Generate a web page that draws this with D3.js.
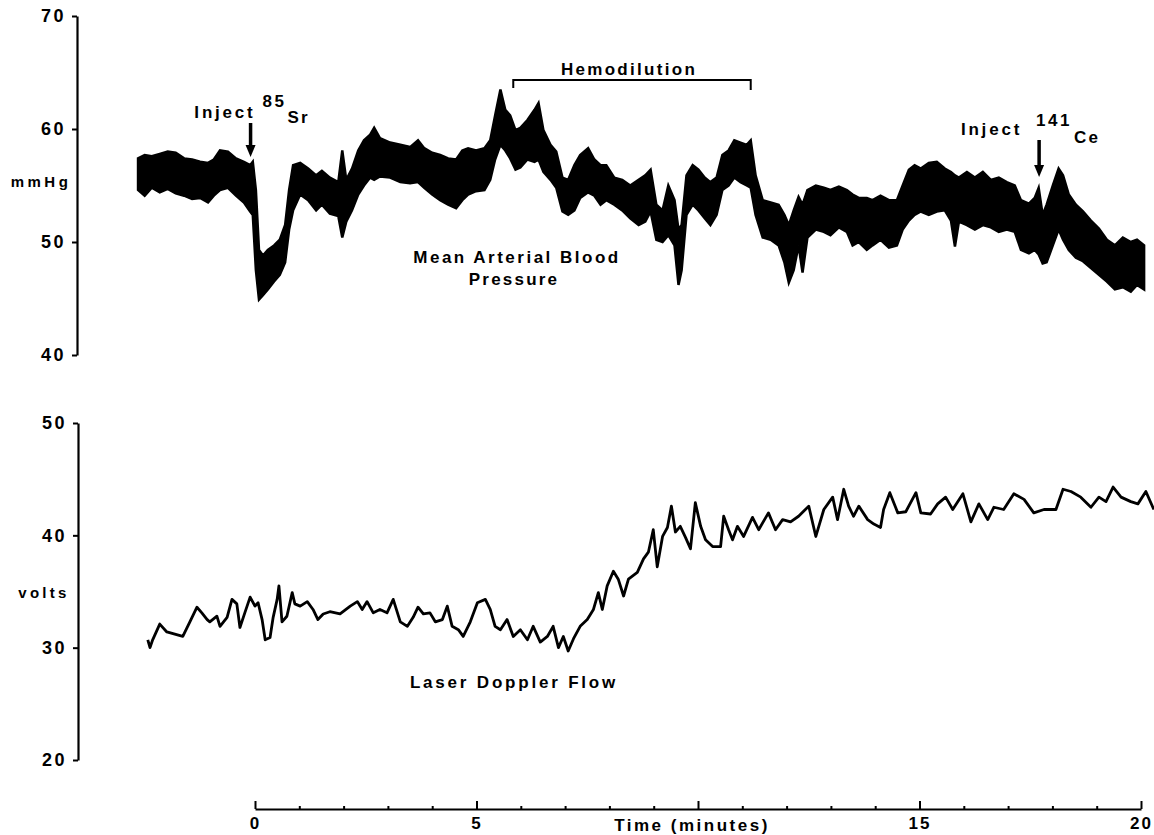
<!DOCTYPE html>
<html>
<head>
<meta charset="utf-8">
<script src="https://cdn.jsdelivr.net/npm/d3@7"></script>
<style>
  body { margin: 0; background: #fff; }
  svg { display: block; }
  text { font-family: "Liberation Sans", Arial, sans-serif; font-weight: bold; fill: #000; }
</style>
</head>
<body>
<svg id="chart" width="1154" height="835"></svg>
<script>
var svg = d3.select("#chart");
var width = +svg.attr("width"),
    height = +svg.attr("height");

// Mean arterial blood pressure: the trace is a thick pulsatile band,
// so it is kept as upper and lower envelope (mmHg) against time (min)
var mapTime = [-2.64,-2.49,-2.33,-2.15,-1.97,-1.79,-1.60,-1.42,-1.24,-1.06,
  -0.93,-0.79,-0.61,-0.43,-0.25,-0.11,-0.05,0.02,0.09,0.18,
  0.29,0.43,0.56,0.68,0.77,0.86,1.02,1.20,1.38,1.51,
  1.69,1.88,1.97,2.06,2.19,2.33,2.46,2.60,2.69,2.82,
  3.05,3.28,3.50,3.68,3.82,4.00,4.18,4.36,4.54,4.68,
  4.81,4.99,5.18,5.31,5.42,5.54,5.65,5.76,5.88,5.99,
  6.15,6.31,6.40,6.51,6.67,6.80,6.94,7.07,7.21,7.34,
  7.52,7.66,7.80,7.93,8.11,8.29,8.47,8.66,8.81,8.93,
  9.06,9.20,9.33,9.47,9.56,9.63,9.74,9.88,10.01,10.15,
  10.28,10.42,10.55,10.69,10.82,10.96,11.10,11.19,11.30,11.46,
  11.64,11.82,11.95,12.05,12.16,12.27,12.36,12.47,12.66,12.84,
  12.99,13.18,13.36,13.49,13.63,13.81,13.94,14.12,14.31,14.49,
  14.62,14.76,14.89,15.03,15.21,15.39,15.57,15.71,15.80,15.89,
  16.07,16.25,16.43,16.61,16.79,16.97,17.15,17.29,17.47,17.60,
  17.69,17.78,17.87,18.01,18.14,18.24,18.37,18.53,18.69,18.87,
  19.05,19.23,19.41,19.59,19.77,19.91,20.07];

var mapHigh = [57.4,57.7,57.6,57.8,58.0,57.9,57.4,57.3,57.1,57.0,
  57.3,58.1,58.0,57.4,57.1,56.8,57.1,54.6,49.3,48.8,
  49.3,49.7,50.2,51.5,54.6,56.8,57.0,56.5,55.9,56.3,
  55.7,55.3,58.1,55.5,56.5,58.1,59.0,59.5,60.1,59.2,
  58.8,58.6,58.4,59.0,58.3,57.9,57.7,57.4,57.3,58.1,
  58.3,58.1,58.3,59.0,61.2,63.5,61.7,61.2,59.9,60.1,
  60.8,61.7,62.3,59.9,58.6,58.0,55.7,55.5,56.8,57.7,
  58.3,57.3,56.8,56.8,55.7,55.5,55.0,55.5,55.9,56.4,
  53.3,52.8,55.0,53.7,51.1,51.5,55.9,56.8,56.4,55.7,
  55.3,55.7,57.7,58.1,59.0,58.8,58.6,59.0,55.9,53.7,
  53.5,53.3,52.4,51.5,52.8,54.0,53.3,54.6,55.0,54.8,
  54.6,54.9,54.6,54.2,53.9,53.9,53.7,54.1,53.7,53.7,
  55.0,56.4,56.8,56.5,57.0,57.1,56.5,56.2,55.9,55.7,
  56.2,55.7,56.2,55.5,55.7,55.3,55.0,53.7,53.4,53.9,
  54.8,52.4,53.3,55.0,56.5,55.9,54.2,53.3,52.7,51.9,
  51.2,50.2,49.7,50.4,50.0,50.2,49.7];

var mapLow = [54.6,54.1,54.8,54.4,54.7,54.3,54.1,53.8,53.9,53.5,
  54.1,54.6,54.8,54.1,53.5,52.7,52.4,47.5,44.9,45.3,
  45.8,46.5,47.1,48.2,51.1,52.8,54.2,53.7,52.8,53.3,
  52.5,52.3,50.4,51.8,52.8,54.2,55.0,55.7,55.5,55.8,
  55.7,55.3,55.2,55.3,54.8,54.2,53.7,53.3,53.0,53.7,
  54.2,54.5,54.6,55.5,57.3,58.6,58.1,57.4,56.4,56.6,
  57.3,57.1,57.3,56.2,55.5,54.8,52.7,52.4,52.8,53.9,
  54.4,54.1,53.3,53.7,53.3,52.8,52.1,51.5,51.8,52.7,
  50.2,50.0,50.6,49.7,46.2,47.5,52.4,53.3,52.8,52.1,
  51.5,52.4,54.6,55.0,55.7,55.3,55.0,54.8,52.4,50.4,
  50.2,49.7,48.2,46.4,47.5,49.7,47.3,50.4,51.1,50.9,
  50.6,51.3,50.9,49.7,50.0,49.3,49.7,50.2,49.5,49.7,
  51.1,51.9,52.4,52.7,52.4,52.7,52.8,51.9,49.6,51.8,
  51.5,51.1,51.5,51.3,50.9,51.1,50.9,49.3,49.0,49.3,
  48.9,48.1,48.2,49.7,51.1,50.2,49.3,48.6,48.3,47.7,
  47.1,46.5,45.8,46.0,45.6,46.2,45.8];

// Laser doppler flow (volts) against time (min)
var flowTime = [-2.42,-2.37,-2.31,-2.15,-1.99,-1.81,-1.63,-1.47,-1.31,-1.20,
  -1.08,-1.02,-0.86,-0.79,-0.63,-0.52,-0.41,-0.34,-0.23,-0.11,
  0.00,0.07,0.16,0.23,0.34,0.41,0.50,0.54,0.61,0.72,
  0.84,0.90,1.02,1.18,1.31,1.42,1.54,1.69,1.92,2.15,
  2.31,2.42,2.53,2.67,2.82,2.98,3.12,3.28,3.44,3.57,
  3.68,3.80,3.95,4.07,4.23,4.34,4.45,4.59,4.70,4.86,
  5.02,5.20,5.31,5.42,5.54,5.69,5.83,5.99,6.15,6.28,
  6.44,6.60,6.73,6.85,6.96,7.07,7.19,7.34,7.50,7.64,
  7.75,7.84,7.95,8.09,8.20,8.32,8.43,8.63,8.77,8.88,
  8.99,9.08,9.20,9.31,9.40,9.49,9.60,9.72,9.83,9.94,
  10.06,10.17,10.33,10.51,10.58,10.69,10.78,10.89,11.03,11.23,
  11.37,11.59,11.75,11.91,12.09,12.27,12.50,12.66,12.84,13.04,
  13.15,13.29,13.40,13.51,13.63,13.83,13.97,14.12,14.19,14.33,
  14.51,14.69,14.92,15.03,15.25,15.41,15.59,15.75,15.98,16.16,
  16.34,16.54,16.68,16.90,17.13,17.36,17.58,17.81,18.08,18.24,
  18.42,18.64,18.87,19.05,19.21,19.37,19.55,19.77,19.93,20.11,
  20.29];

var flowVolts = [30.7,30.0,30.7,32.1,31.4,31.2,31.0,32.3,33.6,33.1,
  32.5,32.3,32.8,31.9,32.7,34.3,33.9,31.8,33.1,34.5,
  33.7,34.0,32.5,30.7,30.9,32.7,34.3,35.5,32.3,32.8,
  34.9,33.9,33.7,34.1,33.4,32.5,33.0,33.2,33.0,33.7,
  34.1,33.4,34.1,33.1,33.4,33.1,34.3,32.3,31.9,32.7,
  33.6,33.0,33.1,32.3,32.5,33.7,31.9,31.6,31.0,32.3,
  34.0,34.3,33.4,31.9,31.6,32.5,31.0,31.6,30.7,31.9,
  30.5,31.0,31.9,30.0,31.0,29.7,30.8,31.9,32.5,33.4,
  34.9,33.4,35.5,36.8,36.1,34.6,36.1,36.7,37.9,38.5,
  40.5,37.2,39.9,40.7,42.6,40.3,40.8,39.8,38.8,42.9,
  40.8,39.6,39.0,39.0,41.7,40.5,39.6,40.8,39.9,41.6,
  40.5,42.0,40.5,41.4,41.2,41.7,42.6,39.9,42.3,43.4,
  41.4,44.1,42.6,41.7,42.6,41.4,41.0,40.7,42.3,43.8,
  42.0,42.1,43.8,42.0,41.9,42.8,43.4,42.3,43.7,41.2,
  42.8,41.4,42.5,42.3,43.7,43.2,42.0,42.3,42.3,44.1,
  43.9,43.4,42.5,43.4,43.0,44.3,43.4,43.0,42.8,43.9,
  42.3];

// ticks and annotations
var mapTicks = [40, 50, 60, 70];
var flowTicks = [20, 30, 40, 50];
var timeMajor = [0, 5, 10, 15, 20];
var timeMinor = [1, 2, 3, 4, 6, 7, 8, 9, 11, 12, 13, 14, 16, 17, 18, 19];
var injectTimes = [-0.1, 17.7];
var isotopeMass = ["85", "141"];
var isotopeName = ["Sr", "Ce"];
var hemodilution = [5.83, 11.19];

// scales
var x = d3.scaleLinear().domain([0, 20]).range([255, 1141]);
var yMap = d3.scaleLinear().domain([40, 70]).range([355, 16]);
var yFlow = d3.scaleLinear().domain([20, 50]).range([760, 423]);

svg.append("rect").attr("width", width).attr("height", height).attr("fill", "#fff");

function styleAxis(g) {
  g.select(".domain").attr("stroke", "#000").attr("stroke-width", 2.2);
  g.selectAll(".tick line").attr("stroke", "#000").attr("stroke-width", 2);
  g.selectAll(".tick text")
    .style("font-family", "'Liberation Sans', Arial, sans-serif")
    .style("font-weight", "bold")
    .style("font-size", "18px")
    .style("letter-spacing", "2.5px")
    .attr("fill", "#000");
}

// left axes
svg.append("g")
  .attr("transform", "translate(77,0)")
  .call(d3.axisLeft(yMap).tickValues(mapTicks).tickSize(5).tickSizeOuter(0).tickPadding(6).tickFormat(d3.format("d")))
  .call(styleAxis);

svg.append("g")
  .attr("transform", "translate(78,0)")
  .call(d3.axisLeft(yFlow).tickValues(flowTicks).tickSize(5).tickSizeOuter(0).tickPadding(6).tickFormat(d3.format("d")))
  .call(styleAxis);

// time axis at the bottom, ticks pointing up
var xAxisY = 809;
svg.append("g")
  .attr("transform", "translate(0," + xAxisY + ")")
  .call(d3.axisBottom(x).tickValues(timeMajor).tickSize(-8).tickSizeOuter(0).tickPadding(8)
    .tickFormat(d => d === 10 ? "" : d))
  .call(styleAxis)
  .selectAll(".tick text").style("font-size", "17px").style("letter-spacing", "2px");

svg.append("g")
  .attr("transform", "translate(0," + xAxisY + ")")
  .call(d3.axisBottom(x).tickValues(timeMinor).tickSize(-3).tickSizeOuter(0).tickFormat(""))
  .call(g => g.select(".domain").remove())
  .selectAll(".tick line").attr("stroke", "#000").attr("stroke-width", 2);

function label(xp, yp, txt, size, spacing) {
  return svg.append("text")
    .attr("x", xp).attr("y", yp)
    .attr("text-anchor", "middle")
    .style("font-size", size + "px")
    .style("letter-spacing", spacing + "px")
    .text(txt);
}

label(x(10) - 6, 831, "Time (minutes)", 17, 2.5);

// unit labels
label(41, 187, "mmHg", 15, 3.5);
label(44, 598, "volts", 15, 3.3);

// blood pressure band
var mapData = mapTime.map((t, i) => ({t: t, hi: mapHigh[i], lo: mapLow[i]}));
svg.append("path")
  .datum(mapData)
  .attr("d", d3.area()
    .x(d => x(d.t))
    .y0(d => yMap(d.lo))
    .y1(d => yMap(d.hi)))
  .attr("fill", "#000")
  .attr("stroke", "#000")
  .attr("stroke-width", 2.5)
  .attr("stroke-linejoin", "miter");

// flow trace
var flowData = flowTime.map((t, i) => ({t: t, v: flowVolts[i]}));
svg.append("path")
  .datum(flowData)
  .attr("d", d3.line().x(d => x(d.t)).y(d => yFlow(d.v)))
  .attr("fill", "none")
  .attr("stroke", "#000")
  .attr("stroke-width", 2.8)
  .attr("stroke-linejoin", "round");

// trace labels
label(517, 263, "Mean Arterial Blood", 17, 2.5);
label(514, 285, "Pressure", 17, 2.2);
label(514, 688, "Laser Doppler Flow", 17, 2.8);

// hemodilution bracket
var bx0 = x(hemodilution[0]), bx1 = x(hemodilution[1]);
svg.append("path")
  .attr("d", "M" + bx0 + ",88V80H" + bx1 + "V90")
  .attr("fill", "none")
  .attr("stroke", "#000")
  .attr("stroke-width", 2);
label((bx0 + bx1) / 2 - 3, 75, "Hemodilution", 17, 2.3);

// injection arrows
var arrowTop = [123, 140];
var arrowTip = [157, 177];
var injectEnd = [5, -17];
var massStart = [12, -3];
var nameStart = [37, 35];
var massLift = [-11, -9];
var nameDrop = [5, 8];

injectTimes.forEach(function(t, i) {
  var ax = x(t);
  svg.append("line")
    .attr("x1", ax).attr("x2", ax)
    .attr("y1", arrowTop[i]).attr("y2", arrowTip[i] - 10)
    .attr("stroke", "#000").attr("stroke-width", 3.5);
  svg.append("path")
    .attr("d", "M" + (ax - 5) + "," + (arrowTip[i] - 12) + "L" + (ax + 5) + "," + (arrowTip[i] - 12) + "L" + ax + "," + arrowTip[i] + "Z")
    .attr("fill", "#000");

  var base = arrowTop[i] - 5;
  svg.append("text")
    .attr("x", ax + injectEnd[i]).attr("y", base)
    .attr("text-anchor", "end")
    .style("font-size", "17px")
    .style("letter-spacing", "2.8px")
    .text("Inject");
  svg.append("text")
    .attr("x", ax + massStart[i]).attr("y", base + massLift[i])
    .style("font-size", "17px")
    .style("letter-spacing", "2.5px")
    .text(isotopeMass[i]);
  svg.append("text")
    .attr("x", ax + nameStart[i]).attr("y", base + nameDrop[i])
    .style("font-size", "17px")
    .style("letter-spacing", "2px")
    .text(isotopeName[i]);
});
</script>
</body>
</html>
